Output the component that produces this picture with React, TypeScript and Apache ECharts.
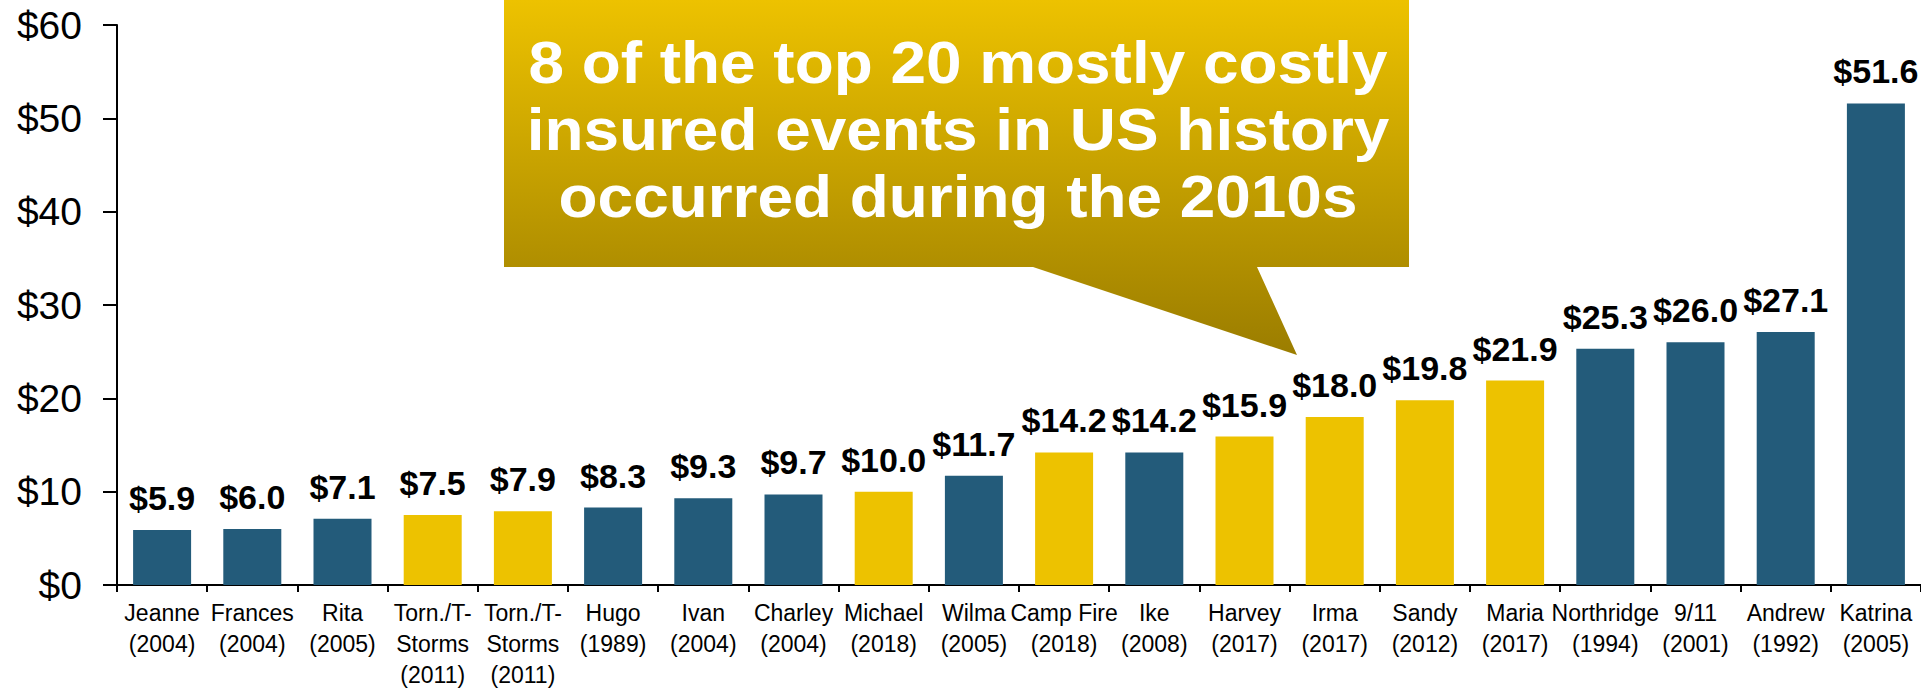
import React, { useEffect, useRef } from "react";
import * as echarts from "echarts";

const eventNames = [
  "Jeanne", "Frances", "Rita", "Torn./T-\nStorms", "Torn./T-\nStorms", "Hugo", "Ivan",
  "Charley", "Michael", "Wilma", "Camp Fire", "Ike", "Harvey", "Irma", "Sandy", "Maria",
  "Northridge", "9/11", "Andrew", "Katrina",
];
const eventYears = [
  2004, 2004, 2005, 2011, 2011, 1989, 2004, 2004, 2018, 2005, 2018, 2008, 2017, 2017,
  2012, 2017, 1994, 2001, 1992, 2005,
];
const insuredLosses = [
  5.9, 6.0, 7.1, 7.5, 7.9, 8.3, 9.3, 9.7, 10.0, 11.7, 14.2, 14.2, 15.9, 18.0, 19.8, 21.9,
  25.3, 26.0, 27.1, 51.6,
];
const yTicks = [0, 10, 20, 30, 40, 50, 60];
const calloutLines = [
  "8 of the top 20 mostly costly",
  "insured events in US history",
  "occurred during the 2010s",
];

const NAVY = "#235B7A";
const GOLD = "#EDC200";

export default function App() {
  const ref = useRef<HTMLDivElement>(null);

  useEffect(() => {
    if (!ref.current) return;
    const chart = echarts.init(ref.current, undefined, { renderer: "svg" });
    const categories = eventNames.map((n, i) => `${n}\n(${eventYears[i]})`);
    chart.setOption({
      animation: false,
      grid: { left: 117, top: 25, width: 1818, bottom: 105, containLabel: false },
      xAxis: {
        type: "category",
        data: categories,
        axisLine: { lineStyle: { color: "#000", width: 2 } },
        axisTick: { show: true, length: 7, lineStyle: { color: "#000", width: 2 } },
        axisLabel: {
          interval: 0,
          margin: 12,
          color: "#000",
          fontFamily: "'Liberation Sans', Arial, sans-serif",
          fontSize: 23,
          lineHeight: 31,
        },
      },
      yAxis: {
        type: "value",
        min: yTicks[0],
        max: yTicks[yTicks.length - 1],
        interval: yTicks[1] - yTicks[0],
        splitLine: { show: false },
        axisLine: { show: true, lineStyle: { color: "#000", width: 2 } },
        axisTick: { show: true, length: 14, lineStyle: { color: "#000", width: 2 } },
        axisLabel: {
          margin: 35,
          color: "#000",
          fontFamily: "'Liberation Sans', Arial, sans-serif",
          fontSize: 39,
          formatter: (v: number) => "$" + v,
        },
      },
      series: [
        {
          type: "bar",
          barWidth: 58,
          data: insuredLosses.map((v, i) => ({
            value: v,
            itemStyle: { color: eventYears[i] >= 2010 ? GOLD : NAVY },
          })),
          label: {
            show: true,
            position: "top",
            distance: 15,
            color: "#000",
            fontFamily: "'Liberation Sans', Arial, sans-serif",
            fontWeight: "bold",
            fontSize: 34,
            formatter: (p: any) => "$" + Number(p.value).toFixed(1),
          },
        },
      ],
      graphic: [
        {
          type: "polygon",
          z: 10,
          shape: {
            points: [
              [504, 0], [1409, 0], [1409, 267], [1257, 267], [1297, 355], [1033, 267], [504, 267],
            ],
          },
          style: {
            fill: {
              type: "linear",
              x: 0, y: 0, x2: 0, y2: 1,
              colorStops: [
                { offset: 0, color: "#EDC200" },
                { offset: 1, color: "#9B7D00" },
              ],
            },
          },
        },
        {
          type: "text",
          z: 11,
          x: 958,
          y: 129,
          scaleX: 1.065,
          style: {
            text: calloutLines.join("\n"),
            fill: "#fff",
            fontFamily: "'Liberation Sans', Arial, sans-serif",
            fontWeight: "bold",
            fontSize: 60,
            lineHeight: 67,
            align: "center",
            verticalAlign: "middle",
          },
        },
      ],
    });
    return () => chart.dispose();
  }, []);

  return (
    <div
      ref={ref}
      style={{ position: "fixed", left: 0, top: 0, width: 1921, height: 690, background: "#fff" }}
    />
  );
}
